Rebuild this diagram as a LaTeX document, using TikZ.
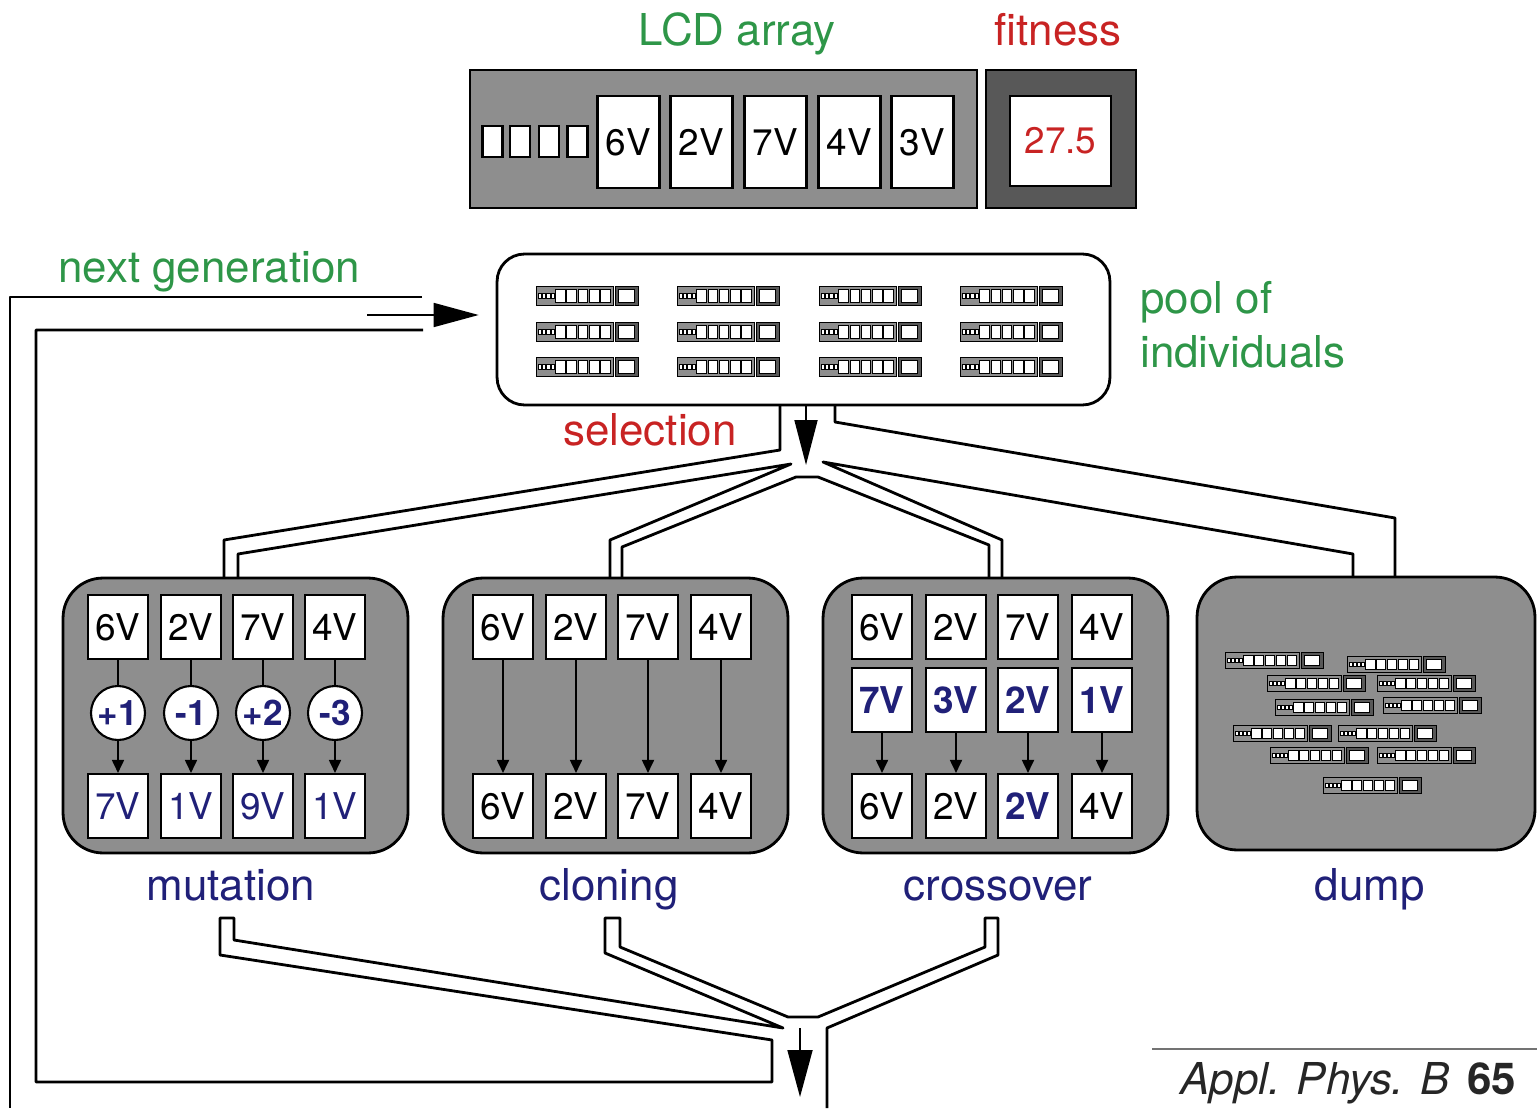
\documentclass[tikz,border=0pt]{standalone}
\usepackage{fontspec}
\setmainfont{TeX Gyre Heros}
\usetikzlibrary{arrows.meta}

\definecolor{lcdgray}{RGB}{142,142,142}
\definecolor{fitgray}{RGB}{88,88,88}
\definecolor{labgreen}{RGB}{46,150,72}
\definecolor{labred}{RGB}{200,35,35}
\definecolor{opnavy}{RGB}{32,32,120}

\newcommand{\hotv}[1]{\textcolor{opnavy}{\bfseries #1}}

\tikzset{
  lbl/.style={font=\fontsize{25}{30}\selectfont, inner sep=0pt},
  cell/.style={draw, fill=white, line width=1.2pt, inner sep=0pt,
    minimum width=1.2cm, minimum height=1.28cm, font=\fontsize{21}{24}\selectfont},
  lcdcell/.style={cell, minimum width=1.24cm, minimum height=1.84cm},
  hot/.style={text=opnavy, font=\fontsize{21}{24}\selectfont\bfseries},
  opbox/.style={draw, fill=lcdgray, line width=1.6pt, rounded corners=0.8cm,
    minimum width=6.9cm, minimum height=5.5cm},
  opnum/.style={circle, draw, fill=white, line width=1.2pt, minimum size=1.08cm,
    inner sep=0pt, text=opnavy, font=\fontsize{20}{22}\selectfont\bfseries},
  wall/.style={line width=1.6pt, line join=round},
  flow/.style={line width=1pt, -{Triangle[length=0.26cm,width=0.24cm]}},
  bigflow/.style={line width=1pt, -{Triangle[length=0.9cm,width=0.48cm]}},
  pics/indiv/.style={code={
    \draw[fill=lcdgray, line width=0.4pt] (0,0) rectangle (507,138);
    \foreach \sx in {12,40,69,97}
      \draw[fill=white, line width=0.3pt] (\sx,56) rectangle ++(21,31);
    \foreach \sx in {127,201,275,349,422}
      \draw[fill=white, line width=0.3pt] (\sx,26) rectangle ++(62,92);
    \draw[fill=fitgray, line width=0.4pt] (516,0) rectangle (666,138);
    \draw[fill=white, line width=0.3pt] (540,26) rectangle (641,116);
  }}
}

\begin{document}
\begin{tikzpicture}[x=0.02cm, y=-0.02cm]
  \useasboundingbox (0,0) rectangle (1537,1108);

  % pipes from the pool to the four operators
  \draw[wall] (780,405) -- (780,450) -- (224,540) -- (224,578);
  \draw[wall] (238,578) -- (238,554) -- (791,464) -- (610,540) -- (610,578);
  \draw[wall] (622,578) -- (622,547) -- (796,477) -- (818,477) -- (989,545) -- (989,578);
  \draw[wall] (1002,578) -- (1002,540) -- (823,462) -- (1353,554) -- (1353,578);
  \draw[wall] (1395,578) -- (1395,518) -- (835,422) -- (835,405);

  % pipes back to the pool
  \draw[wall] (423,330) -- (36,330) -- (36,1082) -- (772,1082) -- (772,1040)
    -- (220,955) -- (220,918) -- (234,918) -- (234,940) -- (783,1028)
    -- (605,953) -- (605,918) -- (620,918) -- (620,947) -- (788,1017)
    -- (818,1017) -- (985,947) -- (985,918) -- (998,918) -- (998,955)
    -- (827,1028) -- (827,1108);
  \draw[wall] (422,297) -- (10,297) -- (10,1108);

  % individual on top
  \node[lbl, text=labgreen, anchor=base] (lcdlbl) at (737,46) {LCD array};
  \node[lbl, text=labred, anchor=base] (fitlbl) at (1058,46) {fitness};
  \node[draw, fill=lcdgray, line width=1.5pt, minimum width=10.14cm,
    minimum height=2.76cm] (lcd) at (723.5,139) {};
  \node[draw, fill=fitgray, line width=1.5pt, minimum width=3cm,
    minimum height=2.76cm] (fit) at (1061,139) {};
  \node[lcdcell, minimum width=2.02cm, minimum height=1.8cm, text=labred]
    (fitval) at (1060.5,141) {27.5};
  \foreach \cx [count=\i] in {492.5,520,549,577.5}
    \node[draw, fill=white, line width=1.2pt, inner sep=0pt, minimum width=0.4cm,
      minimum height=0.62cm] (b\i) at (\cx,141.5) {};
  \foreach \v/\cx [count=\i] in {6V/628.5,2V/701.5,7V/775.5,4V/849.5,3V/922.5}
    \node[lcdcell] (g\i) at (\cx,142) {\v};

  % pool
  \node[lbl, text=labgreen, anchor=base west] (nextlbl) at (58,282) {next generation};
  \node[draw, fill=white, line width=1.6pt, rounded corners=0.55cm,
    minimum width=12.26cm, minimum height=3.02cm] (pool) at (803.5,329.5) {};
  \foreach \px in {536,677,819,960}
    \foreach \py in {286,322,357}
      \pic[xscale=0.153, yscale=0.138] at (\px,\py) {indiv};
  \node[lbl, text=labgreen, anchor=base west] (poollbl) at (1140,313) {pool of};
  \node[lbl, text=labgreen, anchor=base west] (indlbl) at (1140,367) {individuals};
  \node[lbl, text=labred, anchor=base west] (sellbl) at (563,445) {selection};

  % operators
  \node[opbox] (mut) at (235.5,715.5) {};
  \node[opbox] (clo) at (615.5,715.5) {};
  \node[opbox] (cro) at (995.5,715.5) {};
  \node[opbox, minimum width=6.76cm, minimum height=5.46cm] (dump) at (1366,713.5) {};

  \foreach \a/\b/\d/\cx [count=\i] in {6V/7V/+1/118,2V/1V/-1/191,7V/9V/+2/263,4V/1V/-3/335}{
    \node[cell] (mt\i) at (\cx,627) {\a};
    \node[opnum] (mc\i) at (\cx,713) {\d};
    \node[cell, text=opnavy] (mb\i) at (\cx,806) {\b};
    \draw[line width=1pt] (mt\i) -- (mc\i);
    \draw[flow] (mc\i) -- (mb\i);
  }

  \foreach \a/\cx [count=\i] in {6V/503,2V/576,7V/648,4V/721}{
    \node[cell] (ct\i) at (\cx,627) {\a};
    \node[cell] (cb\i) at (\cx,806) {\a};
    \draw[flow] (ct\i) -- (cb\i);
  }

  \foreach \a/\m/\b/\cx [count=\i] in {6V/7V/6V/882,2V/3V/2V/956,7V/2V/{\hotv{2V}}/1028,4V/1V/4V/1102}{
    \node[cell] (xt\i) at (\cx,627) {\a};
    \node[cell, hot] (xm\i) at (\cx,700) {\m};
    \node[cell] (xb\i) at (\cx,806) {\b};
    \draw[flow] (xm\i) -- (xb\i);
  }

  \foreach \px/\py in {1225/652,1347/656,1267/675,1377/675,1275/699,1383/697,
                       1233/725,1338/725,1270/747,1377/747,1323/777}
    \pic[xscale=0.147, yscale=0.116] at (\px,\py) {indiv};

  \node[lbl, text=opnavy, anchor=base] (mutlbl) at (231,900) {mutation};
  \node[lbl, text=opnavy, anchor=base] (clolbl) at (609,900) {cloning};
  \node[lbl, text=opnavy, anchor=base] (crolbl) at (998,900) {crossover};
  \node[lbl, text=opnavy, anchor=base] (dumplbl) at (1370,900) {dump};

  % flow arrows
  \coordinate (selend) at (806,465);
  \draw[bigflow, -{Triangle[length=0.9cm,width=0.46cm]}] (pool.south -| selend) -- (selend);
  \coordinate (ngstart) at (367,315);
  \draw[bigflow, shorten >=0.34cm] (ngstart) -- (ngstart -| pool.west);
  \coordinate (outstart) at (800,1028);
  \coordinate (outend) at (800,1097);
  \draw[bigflow, -{Triangle[length=0.94cm,width=0.5cm]}] (outstart) -- (outend);

  \draw[line width=1.3pt, black!55] (1152,1049) -- (1537,1049);
  \node[lbl, anchor=base west, text=black!85] (cite) at (1180,1094)
    {\textit{Appl. Phys. B}\hspace{0.4em}\textbf{65}};
\end{tikzpicture}
\end{document}
